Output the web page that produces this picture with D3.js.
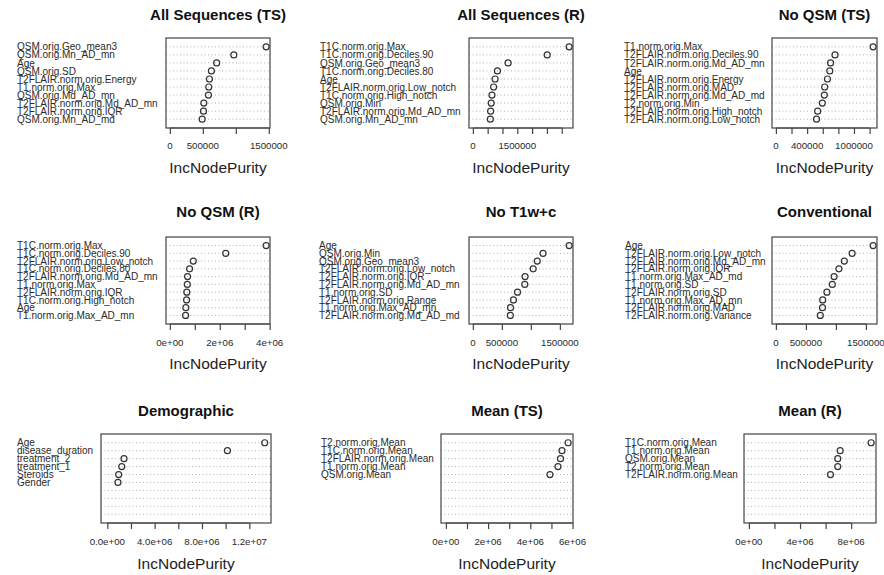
<!DOCTYPE html>
<html>
<head>
<meta charset="utf-8">
<script src="https://cdn.jsdelivr.net/npm/d3@7"></script>
<style>
  body { margin: 0; background: #fff; }
  svg { font-family: "Liberation Sans", Arial, sans-serif; }
  .title { font-weight: bold; font-size: 15px; fill: #111; }
  .var { font-size: 10px; fill: #2a2a2a; }
  .tick-label { font-size: 9.7px; fill: #2a2a2a; }
  .xlab { font-size: 15.5px; fill: #222; }
</style>
</head>
<body>
<svg id="chart" width="884" height="575"></svg>
<script>
// panel titles
const titles = ["All Sequences (TS)", "All Sequences (R)", "No QSM (TS)",
  "No QSM (R)", "No T1w+c", "Conventional",
  "Demographic", "Mean (TS)", "Mean (R)"];

// variables, top to bottom
const varsAllTS = ["QSM.orig.Geo_mean3", "QSM.orig.Mn_AD_mn", "Age", "QSM.orig.SD",
  "T2FLAIR.norm.orig.Energy", "T1.norm.orig.Max", "QSM.orig.Md_AD_mn",
  "T2FLAIR.norm.orig.Md_AD_mn", "T2FLAIR.norm.orig.IQR", "QSM.orig.Mn_AD_md"];
const valsAllTS = [1460000, 970000, 710000, 630000, 600000, 590000, 585000, 515000, 510000, 490000];

const varsAllR = ["T1C.norm.orig.Max", "T1C.norm.orig.Deciles.90", "QSM.orig.Geo_mean3",
  "T1C.norm.orig.Deciles.80", "Age", "T2FLAIR.norm.orig.Low_notch",
  "T1C.norm.orig.High_notch", "QSM.orig.Min", "T2FLAIR.norm.orig.Md_AD_mn", "QSM.orig.Mn_AD_mn"];
const valsAllR = [3250000, 2510000, 1190000, 830000, 750000, 700000, 645000, 620000, 600000, 590000];

const varsNoQsmTS = ["T1.norm.orig.Max", "T2FLAIR.norm.orig.Deciles.90", "T2FLAIR.norm.orig.Md_AD_mn",
  "Age", "T2FLAIR.norm.orig.Energy", "T2FLAIR.norm.orig.MAD", "T2FLAIR.norm.orig.Md_AD_md",
  "T2.norm.orig.Min", "T2FLAIR.norm.orig.High_notch", "T2FLAIR.norm.orig.Low_notch"];
const valsNoQsmTS = [1245000, 757000, 700000, 690000, 660000, 625000, 620000, 595000, 535000, 520000];

const varsNoQsmR = ["T1C.norm.orig.Max", "T1C.norm.orig.Deciles.90", "T2FLAIR.norm.orig.Low_notch",
  "T1C.norm.orig.Deciles.80", "T2FLAIR.norm.orig.Md_AD_mn", "T1.norm.orig.Max",
  "T2FLAIR.norm.orig.IQR", "T1C.norm.orig.High_notch", "Age", "T1.norm.orig.Max_AD_mn"];
const valsNoQsmR = [3860000, 2240000, 940000, 790000, 710000, 700000, 680000, 670000, 640000, 630000];

const varsNoT1c = ["Age", "QSM.orig.Min", "QSM.orig.Geo_mean3", "T2FLAIR.norm.orig.Low_notch",
  "T2FLAIR.norm.orig.IQR", "T2FLAIR.norm.orig.Md_AD_mn", "T1.norm.orig.SD",
  "T2FLAIR.norm.orig.Range", "T1.norm.orig.Max_AD_mn", "T2FLAIR.norm.orig.Md_AD_md"];
const valsNoT1c = [1660000, 1210000, 1110000, 1040000, 900000, 895000, 770000, 700000, 650000, 646000];

const varsConv = ["Age", "T2FLAIR.norm.orig.Low_notch", "T2FLAIR.norm.orig.Md_AD_mn",
  "T2FLAIR.norm.orig.IQR", "T1.norm.orig.Max_AD_md", "T1.norm.orig.SD", "T2FLAIR.norm.orig.SD",
  "T1.norm.orig.Max_AD_mn", "T2FLAIR.norm.orig.MAD", "T2FLAIR.norm.orig.Variance"];
const valsConv = [1620000, 1270000, 1140000, 1050000, 970000, 940000, 850000, 780000, 777000, 740000];

const varsDemo = ["Age", "disease_duration", "treatment_2", "treatment_1", "Steroids", "Gender"];
const valsDemo = [13300000, 10150000, 1410000, 1220000, 960000, 900000];

const varsMeanTS = ["T2.norm.orig.Mean", "T1C.norm.orig.Mean", "T2FLAIR.norm.orig.Mean",
  "T1.norm.orig.Mean", "QSM.orig.Mean"];
const valsMeanTS = [5790000, 5500000, 5430000, 5310000, 4930000];

const varsMeanR = ["T1C.norm.orig.Mean", "T1.norm.orig.Mean", "QSM.orig.Mean",
  "T2.norm.orig.Mean", "T2FLAIR.norm.orig.Mean"];
const valsMeanR = [9560000, 7140000, 6950000, 6950000, 6380000];

// axis ticks and the labels R kept (blank = tick only)
const ticksA = [0, 500000, 1000000, 1500000];
const tickLabA = ["0", "500000", "", "1500000"];
const ticksB = [0, 500000, 1000000, 1500000, 2000000, 2500000, 3000000];
const tickLabB = ["0", "", "", "1500000", "", "", ""];
const ticksC = [0, 200000, 400000, 600000, 800000, 1000000, 1200000];
const tickLabC = ["0", "", "400000", "", "", "1000000", ""];
const ticksD = [0, 1000000, 2000000, 3000000, 4000000];
const tickLabD = ["0e+00", "", "2e+06", "", "4e+06"];
const ticksE = [0, 2000000, 4000000, 6000000, 8000000, 10000000, 12000000];
const tickLabE = ["0.0e+00", "", "4.0e+06", "", "8.0e+06", "", "1.2e+07"];
const ticksF = [0, 1000000, 2000000, 3000000, 4000000, 5000000, 6000000];
const tickLabF = ["0e+00", "", "2e+06", "", "4e+06", "", "6e+06"];
const ticksG = [0, 2000000, 4000000, 6000000, 8000000];
const tickLabG = ["0e+00", "", "4e+06", "", "8e+06"];

const panels = [
  { vars: varsAllTS, vals: valsAllTS, ticks: ticksA, tickLabels: tickLabA },
  { vars: varsAllR, vals: valsAllR, ticks: ticksB, tickLabels: tickLabB },
  { vars: varsNoQsmTS, vals: valsNoQsmTS, ticks: ticksC, tickLabels: tickLabC },
  { vars: varsNoQsmR, vals: valsNoQsmR, ticks: ticksD, tickLabels: tickLabD },
  { vars: varsNoT1c, vals: valsNoT1c, ticks: ticksA, tickLabels: tickLabA },
  { vars: varsConv, vals: valsConv, ticks: ticksA, tickLabels: tickLabA },
  { vars: varsDemo, vals: valsDemo, ticks: ticksE, tickLabels: tickLabE },
  { vars: varsMeanTS, vals: valsMeanTS, ticks: ticksF, tickLabels: tickLabF },
  { vars: varsMeanR, vals: valsMeanR, ticks: ticksG, tickLabels: tickLabG }
];

// layout: plot box per panel
const rowTop = [38, 237, 434];
const rowBottom = [128, 324, 523];
const titleY = [15, 212, 411];
const tickLabY = [146, 343, 542];
const xlabY = [167, 363, 563];
const boxLeft = [166, 469, 772, 166, 469, 772, 101, 441, 744];
const boxRight = [270, 573, 877, 270, 573, 877, 271, 573, 876];
const labelX = [17, 320, 624, 17, 319, 625, 17, 321, 625];
const nRows = 10;

const svg = d3.select("#chart");

panels.forEach(function(p, i) {
  const r = Math.floor(i / 3);
  const x0 = boxLeft[i], x1 = boxRight[i];
  const y0 = rowTop[r], y1 = rowBottom[r];
  const g = svg.append("g");

  // R's dotchart: xlim = c(0, max), extended by 4%
  const max = d3.max(p.vals);
  const x = d3.scaleLinear()
    .domain([-0.04 * max, 1.04 * max])
    .range([x0, x1]);

  const y = d3.scalePoint()
    .domain(d3.range(nRows))
    .range([y0, y1])
    .padding(1.1);

  // dotted guide lines for every row
  g.selectAll("line.grid")
    .data(d3.range(nRows))
    .enter().append("line")
    .attr("class", "grid")
    .attr("x1", x0).attr("x2", x1)
    .attr("y1", function(d) { return y(d); })
    .attr("y2", function(d) { return y(d); })
    .attr("stroke", "#aaa")
    .attr("stroke-width", 0.9)
    .attr("stroke-dasharray", "1,2.5");

  // box
  g.append("rect")
    .attr("x", x0).attr("y", y0)
    .attr("width", x1 - x0).attr("height", y1 - y0)
    .attr("fill", "none")
    .attr("stroke", "#444")
    .attr("stroke-width", 1.2);

  // points
  g.selectAll("circle")
    .data(p.vals)
    .enter().append("circle")
    .attr("cx", function(d) { return x(d); })
    .attr("cy", function(d, k) { return y(k); })
    .attr("r", 3)
    .attr("fill", "none")
    .attr("stroke", "#333")
    .attr("stroke-width", 1.2);

  // variable names, left aligned
  g.selectAll("text.var")
    .data(p.vars)
    .enter().append("text")
    .attr("class", "var")
    .attr("x", labelX[i])
    .attr("y", function(d, k) { return y(k); })
    .attr("dy", "0.36em")
    .text(function(d) { return d; });

  // x axis
  const axis = d3.axisBottom(x)
    .tickValues(p.ticks)
    .tickSize(6)
    .tickFormat("");
  const ax = g.append("g")
    .attr("transform", "translate(0," + y1 + ")")
    .call(axis);
  ax.select(".domain")
    .attr("d", "M" + x(p.ticks[0]) + ",0H" + x(p.ticks[p.ticks.length - 1]))
    .attr("stroke", "#444");
  ax.selectAll(".tick line").attr("stroke", "#444").attr("stroke-width", 1.2);

  g.selectAll("text.tick-label")
    .data(p.ticks)
    .enter().append("text")
    .attr("class", "tick-label")
    .attr("x", function(d) { return x(d); })
    .attr("y", tickLabY[r])
    .attr("dy", "0.36em")
    .attr("text-anchor", "middle")
    .text(function(d, k) { return p.tickLabels[k]; });

  g.append("text")
    .attr("class", "title")
    .attr("x", (x0 + x1) / 2)
    .attr("y", titleY[r])
    .attr("dy", "0.36em")
    .attr("text-anchor", "middle")
    .text(titles[i]);

  g.append("text")
    .attr("class", "xlab")
    .attr("x", (x0 + x1) / 2)
    .attr("y", xlabY[r])
    .attr("dy", "0.36em")
    .attr("text-anchor", "middle")
    .text("IncNodePurity");
});
</script>
</body>
</html>
